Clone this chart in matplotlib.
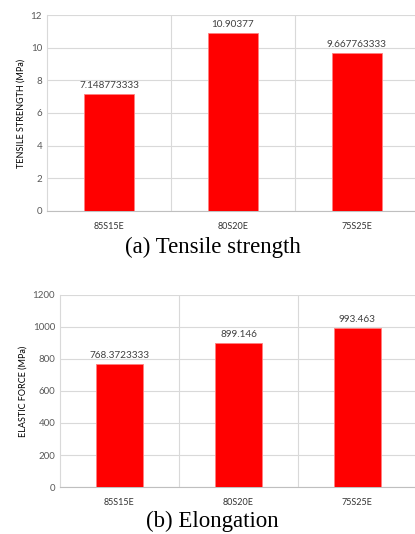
import matplotlib
matplotlib.use("Agg")
from matplotlib import pyplot as plt

categories = ["85S15E", "80S20E", "75S25E"]
tensile = [7.148773333, 10.90377, 9.667763333]
tensile_labels = ["7.148773333", "10.90377", "9.667763333"]
elastic = [768.3723333, 899.146, 993.463]
elastic_labels = ["768.3723333", "899.146", "993.463"]

plt.rcParams['font.family'] = ['Lato', 'DejaVu Sans']

fig = plt.figure(figsize=(4.15, 5.34), dpi=100)

def draw_panel(ax, values, labels, ylim, step, ylabel, label_off):
    x = range(len(categories))
    ax.bar(x, values, width=0.4, color="#ff0000", edgecolor="#ff8080", linewidth=0.6, zorder=3)
    for xi, v, t in zip(x, values, labels):
        ax.text(xi, v + label_off, t, ha="center", va="bottom", fontsize=7.2, color="#404040")
    ax.set_xlim(-0.5, 2.5)
    ax.set_ylim(0, ylim)
    ax.set_yticks([i * step for i in range(int(ylim / step) + 1)])
    ax.set_xticks(list(x))
    ax.set_xticklabels(categories)
    ax.tick_params(axis="both", length=0, labelsize=7, labelcolor="#595959")
    ax.tick_params(axis="x", pad=8, labelsize=6.5, labelcolor="#333333")
    ax.grid(axis="y", color="#d9d9d9", linewidth=0.8, zorder=0)
    for b in [0.5, 1.5]:
        ax.axvline(b, color="#d9d9d9", linewidth=0.8, zorder=0)
    for s in ["top", "right"]:
        ax.spines[s].set_visible(False)
    ax.spines["left"].set_color("#d9d9d9")
    ax.spines["left"].set_linewidth(0.8)
    ax.spines["bottom"].set_color("#bfbfbf")
    ax.spines["bottom"].set_linewidth(0.8)
    ax.set_ylabel(ylabel, fontsize=6.5, color="#000000", labelpad=4)

ax1 = fig.add_axes([0.1133, 0.6049, 0.896, 0.367])
draw_panel(ax1, tensile, tensile_labels, 12, 2, "TENSILE STRENGTH (MPa)", 0.25)
fig.text(0.513, 0.5375, "(a) Tensile strength", ha="center", va="center",
         fontsize=16.5, family="Liberation Serif")

ax2 = fig.add_axes([0.1446, 0.088, 0.860, 0.3596])
draw_panel(ax2, elastic, elastic_labels, 1200, 200, "ELASTIC FORCE (MPa)", 25)
fig.text(0.512, 0.003, "(b) Elongation", ha="center", va="bottom",
         fontsize=16.5, family="Liberation Serif")

fig.savefig("out.png", dpi=100)
